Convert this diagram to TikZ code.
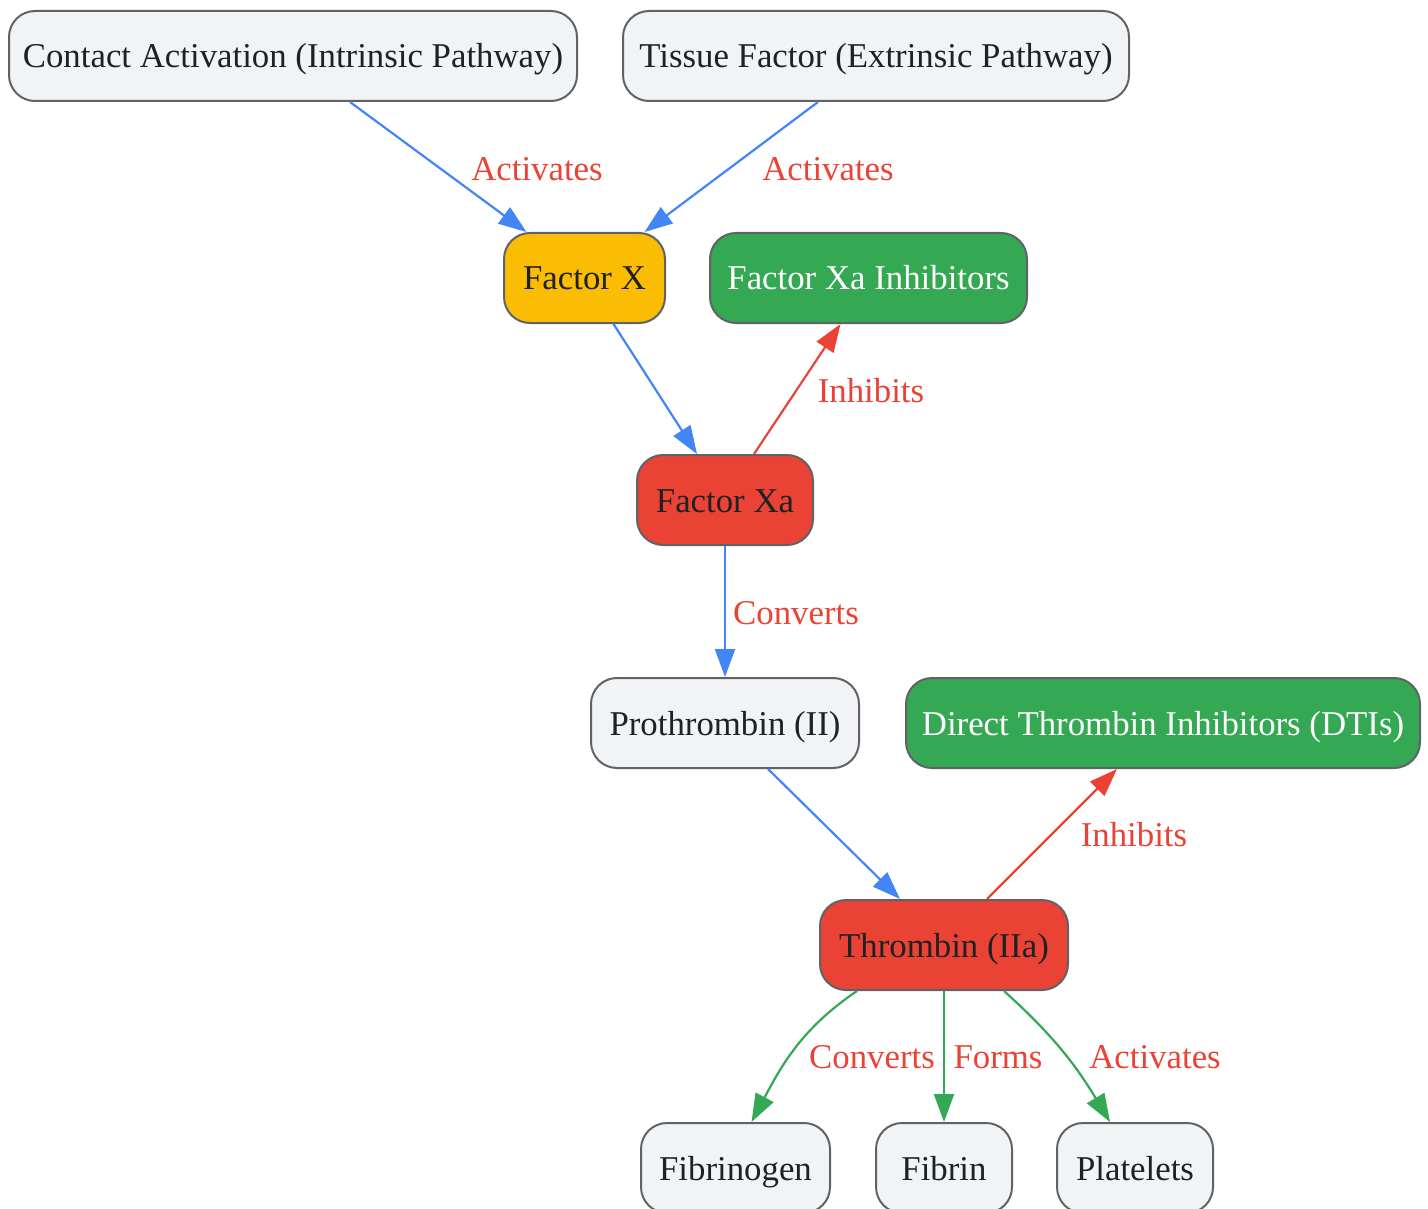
\documentclass[tikz,border=0pt]{standalone}
\usepackage{fontspec}
\setmainfont{Liberation Serif}
\usetikzlibrary{arrows.meta}
\definecolor{gfill}{HTML}{F1F3F4}
\definecolor{gborder}{HTML}{5F6368}
\definecolor{gtext}{HTML}{202124}
\definecolor{gblue}{HTML}{4285F4}
\definecolor{gred}{HTML}{EA4335}
\definecolor{ggreen}{HTML}{34A853}
\definecolor{gyellow}{HTML}{FBBC04}
\tikzset{
  box/.style={draw=gborder, line width=2pt, rounded corners=26pt, fill=gfill,
    text=gtext, minimum height=90pt, inner sep=0pt, text height=29pt, text depth=5pt,
    font=\fontsize{34.8}{40}\selectfont},
  greenbox/.style={box, fill=ggreen, text=white},
  redbox/.style={box, fill=gred},
  yellowbox/.style={box, fill=gyellow},
  lbl/.style={text=gred, font=\fontsize{34.8}{40}\selectfont, inner sep=0pt},
  conn/.style={line width=2.2pt, -{Triangle[length=28pt,width=20pt]}},
  bluec/.style={conn, draw=gblue},
  redc/.style={conn, draw=gred},
  greenc/.style={conn, draw=ggreen},
}
\begin{document}
\begin{tikzpicture}[x=1pt,y=-1pt]
\useasboundingbox (0,0) rectangle (1428,1209);
\node[box, minimum width=568pt] (ca) at (293,56) {Contact Activation (Intrinsic Pathway)};
\node[box, minimum width=506pt] (tf) at (876,56) {Tissue Factor (Extrinsic Pathway)};
\node[yellowbox, minimum width=161pt] (fx) at (584.5,278) {Factor X};
\node[greenbox, minimum width=317pt] (fxi) at (868.5,278) {Factor Xa Inhibitors};
\node[redbox, minimum width=176pt] (fxa) at (725,500) {Factor Xa};
\node[box, minimum width=268pt] (pro) at (725,723) {Prothrombin (II)};
\node[greenbox, minimum width=514pt] (dti) at (1163,723) {Direct Thrombin Inhibitors (DTIs)};
\node[redbox, minimum width=248pt] (thr) at (944,945) {Thrombin (IIa)};
\node[box, minimum width=189pt] (fbg) at (735.5,1168) {Fibrinogen};
\node[box, minimum width=136pt] (fbn) at (944,1168) {Fibrin};
\node[box, minimum width=156pt] (plt) at (1135,1168) {Platelets};

\draw[bluec] ([xshift=57pt]ca.south) -- ([xshift=-58pt]fx.north);
\draw[bluec] ([xshift=-58pt]tf.south) -- ([xshift=60pt]fx.north);
\draw[bluec] ([xshift=29pt]fx.south) -- ([xshift=-28pt]fxa.north);
\draw[redc] ([xshift=29pt]fxa.north) -- ([xshift=-28pt]fxi.south);
\draw[bluec] (fxa.south) -- (pro.north);
\draw[bluec] ([xshift=43pt]pro.south) -- ([xshift=-44pt]thr.north);
\draw[redc] ([xshift=43pt]thr.north) -- ([xshift=-46pt]dti.south);
\draw[greenc] ([xshift=-87pt]thr.south) to[out=214,in=62] ([xshift=16pt]fbg.north);
\draw[greenc] (thr.south) -- (fbn.north);
\draw[greenc] ([xshift=60pt]thr.south) to[out=-42,in=121] ([xshift=-25pt]plt.north);

\node[lbl] (l1) at (537,169) {Activates};
\node[lbl] (l2) at (828,169) {Activates};
\node[lbl] (l3) at (871,391) {Inhibits};
\node[lbl] (l4) at (796,613) {Converts};
\node[lbl] (l5) at (1134,835) {Inhibits};
\node[lbl] (l6) at (872,1057) {Converts};
\node[lbl] (l7) at (998,1057) {Forms};
\node[lbl] (l8) at (1155,1057) {Activates};
\end{tikzpicture}
\end{document}
